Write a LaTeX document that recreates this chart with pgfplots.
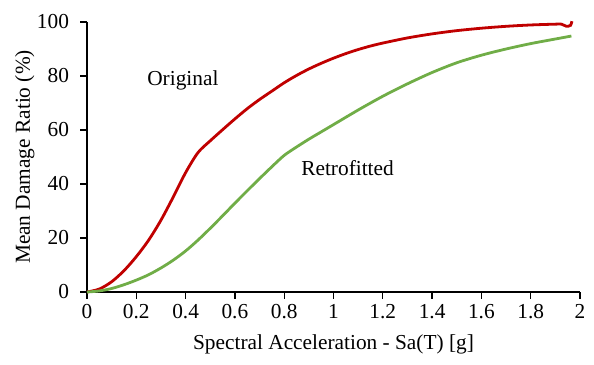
\documentclass[border=0pt]{standalone}
\usepackage{pgfplots}
\pgfplotsset{compat=1.18}
\usepackage{fontspec}
\setmainfont{Liberation Serif}
\definecolor{origred}{HTML}{C00000}
\definecolor{retgreen}{HTML}{70AD47}
\begin{document}
\begin{tikzpicture}
\begin{axis}[
  scale only axis,
  width=369.75pt, height=202.5pt,
  xmin=0, xmax=2, ymin=0, ymax=100,
  axis x line*=bottom, axis y line*=left,
  axis line style={line width=1.4pt, -},
  xtick={0,0.2,...,2.0},
  xticklabels={0,0.2,0.4,0.6,0.8,1,1.2,1.4,1.6,1.8,2},
  ytick={0,20,40,60,80,100},
  tick style={line width=1pt, black},
  tick align=outside, major tick length=5pt,
  /pgf/number format/assume math mode=true,
  tick label style={font=\fontsize{16}{19}\selectfont},
  yticklabel style={xshift=-5pt},
  xticklabel style={yshift=-1pt},
  label style={font=\fontsize{16}{19}\selectfont},
  xlabel={Spectral Acceleration - Sa(T) [g]},
  ylabel={Mean Damage Ratio (\%)},
  xlabel style={yshift=-5pt},
  ylabel style={yshift=-5pt},
  clip=false,
]
\addplot[origred, line width=2.1pt, smooth] coordinates {
(0,0) (0.05,1.1) (0.1,3.8) (0.15,7.9) (0.2,13.1) (0.25,19.2) (0.3,26.6) (0.35,35.2)
(0.4,44.2) (0.45,51.6) (0.5,56) (0.55,60.1) (0.6,64.1) (0.65,67.9) (0.7,71.3)
(0.75,74.4) (0.8,77.5) (0.85,80.2) (0.9,82.6) (0.95,84.7) (1.0,86.6) (1.05,88.3)
(1.1,89.8) (1.15,91.1) (1.2,92.2) (1.3,94.1) (1.4,95.6) (1.5,96.8) (1.6,97.7)
(1.7,98.4) (1.8,98.9) (1.9,99.2) (1.925,99.2)
(1.945,98.4) (1.962,98.8) (1.967,100.3)
};
\addplot[retgreen, line width=2.1pt, smooth] coordinates {
(0,0) (0.05,0.4) (0.1,1.3) (0.15,2.7) (0.2,4.4) (0.25,6.4) (0.3,8.9) (0.35,11.8)
(0.4,15.2) (0.45,19.2) (0.5,23.6) (0.55,28.2) (0.6,32.9) (0.65,37.5) (0.7,42)
(0.75,46.4) (0.8,50.6) (0.85,53.7) (0.9,56.6) (0.95,59.3) (1.0,62) (1.1,67.4)
(1.2,72.5) (1.3,77.1) (1.4,81.3) (1.5,84.9) (1.6,87.7) (1.7,90) (1.8,92)
(1.9,93.7) (1.965,94.8)
};
\node[font=\fontsize{16}{19}\selectfont] at (axis cs:0.389,78.5) {Original};
\node[font=\fontsize{16}{19}\selectfont] at (axis cs:1.057,45.9) {Retrofitted};
\end{axis}
\pgfresetboundingbox
\path (current axis.south west) ++(-65.25pt,-54pt) coordinate (bbA);
\path (current axis.north east) ++(10.5pt,16.5pt) coordinate (bbB);
\useasboundingbox (bbA) rectangle (bbB);
\end{tikzpicture}
\end{document}
